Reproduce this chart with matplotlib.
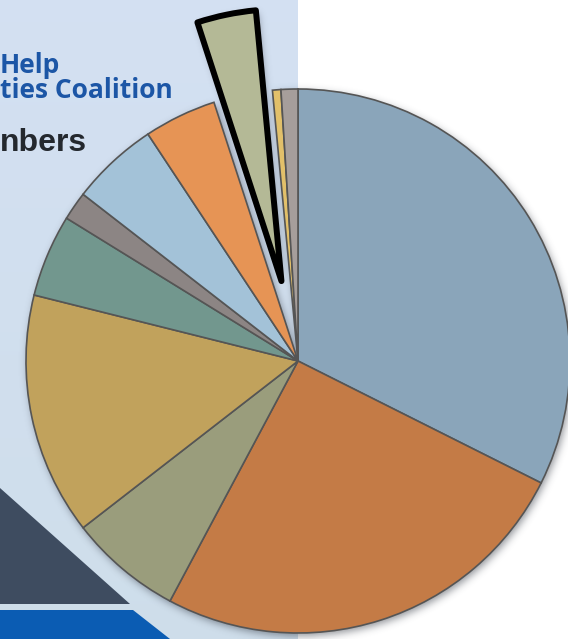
import numpy as np
import matplotlib.pyplot as plt
from matplotlib.patches import Polygon

W, H = 568, 639

# slice shares (percent), clockwise from 12 o'clock
shares = [32.4, 25.4, 6.7, 14.4, 4.9, 1.7, 5.2, 4.3, 3.5, 0.5, 1.0]
colors = ['#8aa5ba', '#c47b46', '#9a9d7c', '#c1a25c', '#72978e', '#8c8584',
          '#a3c2d8', '#e69455', '#b4b996', '#e2c06a', '#a69e9b']
explode_frac = [0, 0, 0, 0, 0, 0, 0, 0, 0.30, 0, 0]
highlight = 8

# header fragments of the slide behind the chart
header_lines = ['Help', 'ties Coalition']
subheader = 'nbers'

fig = plt.figure(figsize=(W / 100, H / 100), dpi=100)
fig.patch.set_facecolor('white')
ax = fig.add_axes([0, 0, 1, 1])

# slide background on the left
grad = np.linspace(0, 1, 200)[:, None, None]
top = np.array([0.83, 0.88, 0.95])
bot = np.array([0.81, 0.87, 0.92])
bg = top * (1 - grad) + bot * grad
ax.imshow(np.repeat(bg, 2, axis=1), extent=[0, 298, 0, H], origin='upper',
          aspect='auto', zorder=0)
ax.add_patch(Polygon([(0, H - 488), (130, H - 604), (0, H - 604)],
                     closed=True, facecolor='#3e4c60', edgecolor='none', zorder=1))
ax.add_patch(Polygon([(0, H - 610), (133, H - 610), (170, 0), (0, 0)],
                     closed=True, facecolor='#0b5cb3', edgecolor='none', zorder=1))

ax.text(0, H - 73, header_lines[0], color='#1c56a6', fontsize=19,
        fontweight='bold', family='Open Sans', va='baseline', zorder=2)
ax.text(0, H - 98, header_lines[1], color='#1c56a6', fontsize=19,
        fontweight='bold', family='Open Sans', va='baseline', zorder=2)
ax.text(0, H - 151, subheader, color='#24282e', fontsize=23,
        fontweight='bold', family='Liberation Sans', va='baseline', zorder=2)

cx, cy, r = 298, H - 361, 272
wedges, _ = ax.pie(shares, colors=colors, explode=[e * r for e in explode_frac],
                   startangle=90, counterclock=False, center=(cx, cy), radius=r,
                   wedgeprops=dict(edgecolor='#555555', linewidth=1.2))
for w in wedges:
    w.set_zorder(4)
wedges[highlight].set_edgecolor('black')
wedges[highlight].set_linewidth(4.3)
wedges[highlight].set_joinstyle('round')

# soft drop shadow under the pie
xs = np.arange(W) + 0.5
ys = H - (np.arange(H) + 0.5)
gx, gy = np.meshgrid(xs, ys)
pts = np.column_stack([gx.ravel() - 2, gy.ravel() + 3])
mask = np.zeros(W * H)
for w in wedges:
    mask = np.maximum(mask, w.get_path().contains_points(pts))
mask = mask.reshape(H, W)
k = np.exp(-0.5 * (np.arange(-12, 13) / 4.0) ** 2)
k /= k.sum()
blur = np.apply_along_axis(lambda v: np.convolve(v, k, mode='same'), 1, mask)
blur = np.apply_along_axis(lambda v: np.convolve(v, k, mode='same'), 0, blur)
shadow = np.zeros((H, W, 4))
shadow[..., :3] = [0.22, 0.24, 0.28]
shadow[..., 3] = 0.55 * blur
ax.imshow(shadow, extent=[0, W, 0, H], origin='upper', aspect='auto', zorder=3)

ax.set_xlim(0, W)
ax.set_ylim(0, H)
ax.set_aspect('auto')
ax.axis('off')
fig.savefig('out.png', dpi=100)
